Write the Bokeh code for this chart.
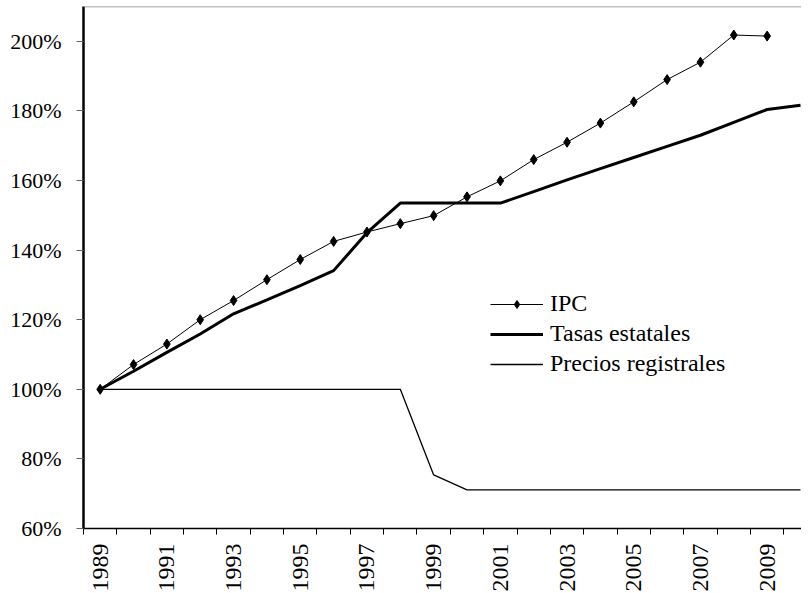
from bokeh.plotting import figure
from bokeh.models import (ColumnDataSource, FixedTicker, PrintfTickFormatter, Range1d,
                          Span, Legend, LegendItem)
from bokeh.embed import file_html
from bokeh.resources import INLINE
import math

years = [1989, 1990, 1991, 1992, 1993, 1994, 1995, 1996, 1997, 1998, 1999,
         2000, 2001, 2002, 2003, 2004, 2005, 2006, 2007, 2008, 2009, 2010]
ipc = [100, 107.1, 113.0, 120.0, 125.5, 131.5, 137.3, 142.5, 145.2, 147.6, 149.9,
       155.3, 159.9, 166.0, 171.0, 176.5, 182.6, 189.0, 194.0, 201.8, 201.5]
tasas = [100, 105.2, 110.6, 115.9, 121.7, 125.7, 129.8, 134.1, 145.0, 153.5, 153.5,
         153.5, 153.5, 156.8, 160.2, 163.4, 166.6, 169.8, 173.0, 176.7, 180.4, 181.6]
precios = [100, 100, 100, 100, 100, 100, 100, 100, 100, 100, 75.4,
           71.1, 71.1, 71.1, 71.1, 71.1, 71.1, 71.1, 71.1, 71.1, 71.1, 71.1]
y_ticks = [60, 80, 100, 120, 140, 160, 180, 200]
x_labels = [1989, 1991, 1993, 1995, 1997, 1999, 2001, 2003, 2005, 2007, 2009]

FONT = "Liberation Serif"

src_ipc = ColumnDataSource(dict(x=years[:len(ipc)], y=ipc))
src_tasas = ColumnDataSource(dict(x=years, y=tasas))
src_precios = ColumnDataSource(dict(x=years, y=precios))

Y_END = 210
p = figure(width=801, height=593, output_backend="svg", toolbar_location=None,
           x_range=Range1d(1988.5, 2010.03), y_range=Range1d(60, Y_END),
           frame_width=718, frame_height=522,
           min_border_left=83, min_border_right=0, min_border_top=6, min_border_bottom=0)
p.outline_line_color = None
p.xgrid.visible = False
p.ygrid.visible = False
p.background_fill_color = "white"
p.border_fill_color = "white"

top = Span(location=Y_END, dimension="width", line_color="#808080", line_width=1.5)
p.add_layout(top)

l_ipc = p.line("x", "y", source=src_ipc, line_color="black", line_width=1)
m_ipc = p.scatter("x", "y", source=src_ipc, marker="diamond", size=10,
                  fill_color="black", line_color="black")
l_tasas = p.line("x", "y", source=src_tasas, line_color="black", line_width=3)
l_precios = p.line("x", "y", source=src_precios, line_color="black", line_width=1.3)

legend = Legend(items=[
    LegendItem(label="IPC", renderers=[l_ipc, m_ipc]),
    LegendItem(label="Tasas estatales", renderers=[l_tasas]),
    LegendItem(label="Precios registrales", renderers=[l_precios]),
], location=(407, 151))
legend.border_line_color = None
legend.background_fill_alpha = 0
legend.padding = 0
legend.margin = 0
legend.spacing = 3
legend.glyph_width = 53
legend.glyph_height = 20
legend.label_height = 20
legend.label_standoff = 7
legend.label_text_font = FONT
legend.label_text_font_size = "24px"
legend.label_text_color = "black"
p.add_layout(legend)

# x axis
p.xaxis.ticker = FixedTicker(ticks=x_labels, minor_ticks=[y - 0.5 for y in years] + [2010.5])
p.xaxis.major_tick_line_color = None
p.xaxis.minor_tick_line_color = "black"
p.xaxis.minor_tick_out = 6
p.xaxis.minor_tick_in = 0
p.xaxis.axis_line_color = "black"
p.xaxis.axis_line_width = 1.5
p.xaxis.major_label_orientation = math.pi / 2
p.xaxis.major_label_standoff = 9
p.xaxis.major_label_text_font = FONT
p.xaxis.major_label_text_font_size = "24px"
p.xaxis.major_label_text_color = "black"

# y axis
p.yaxis.ticker = FixedTicker(ticks=y_ticks, minor_ticks=[])
p.yaxis.formatter = PrintfTickFormatter(format="%d%%")
p.yaxis.axis_line_color = "black"
p.yaxis.axis_line_width = 2.5
p.yaxis.major_tick_line_color = "#606060"
p.yaxis.major_tick_out = 7
p.yaxis.major_tick_in = 0
p.yaxis.minor_tick_line_color = None
p.yaxis.major_label_standoff = 15
p.yaxis.major_label_text_font = FONT
p.yaxis.major_label_text_font_size = "22px"
p.yaxis.major_label_text_color = "black"

open("out.html", "w").write(file_html(p, INLINE))
